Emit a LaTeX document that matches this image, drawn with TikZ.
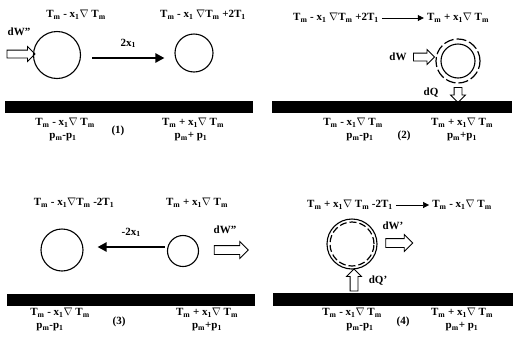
\documentclass[tikz,border=0pt]{standalone}
\usepackage{fontspec}
\setmainfont{Liberation Serif}
\usetikzlibrary{arrows.meta,shapes.arrows,positioning}
\newcommand{\Tm}{T\textsubscript{m}}
\newcommand{\xo}{x\textsubscript{1}}
\newcommand{\pmm}{p\textsubscript{m}}
\newcommand{\po}{p\textsubscript{1}}
\newcommand{\nab}{$\nabla$}
\tikzset{
  lbl/.style={
    font=\fontsize{11}{12}\selectfont\bfseries,
    inner sep=0pt
  },
  bubble/.style={
    circle,
    draw,
    line width=1.1pt,
    inner sep=0pt
  },
  ring/.style={
    circle,
    draw,
    line width=1.2pt,
    dash pattern=on 10pt off 3pt,
    inner sep=0pt
  },
  hollow arrow/.style={
    single arrow,
    draw,
    line width=0.8pt,
    inner sep=3.5pt,
    single arrow head extend=3.5pt
  },
  move arrow/.style={
    -{Triangle[length=9pt,width=9pt]},
    line width=2.4pt
  },
  text arrow/.style={
    -{Triangle[length=6pt,width=6pt]},
    line width=0.8pt,
    shorten <=3pt,
    shorten >=3pt
  }
}
\begin{document}
\begin{tikzpicture}[x=1pt, y=-1pt]
  \useasboundingbox (0,0) rectangle (515,341);

  % Walls
  \fill (5,101) rectangle (253,113);
  \fill (272,101) rectangle (512,113);
  \fill (7,294) rectangle (255,306);
  \fill (273,293) rectangle (513,306);

  % Panel 1
  \node[bubble, minimum size=47pt] (big1) at (57,55) {};
  \node[bubble, minimum size=38pt] (small1) at (194,53) {};
  \node[lbl] (t1a) at (76,15) {\Tm\ - \xo\nab\ \Tm};
  \node[lbl] (t1b) at (203,15) {\Tm\ - \xo\ \nab\Tm\ +2T\textsubscript{1}};
  \node[lbl] (dw1) at (19,32) {dW''};
  \node[hollow arrow, minimum height=28pt] (in1) at (19,54) {};
  \draw[move arrow] ([xshift=11pt,yshift=-3pt]big1.east) -- node[lbl, above=9pt] {2\xo} ([xshift=-10pt,yshift=-3pt]big1.east -| small1.west);
  \node[lbl] (l1a) at (65,123) {\Tm\ - \xo\nab\ \Tm};
  \node[lbl] (l1b) at (63,137) {\pmm-\po};
  \node[lbl] (n1) at (118,131) {(1)};
  \node[lbl] (r1a) at (193,123) {\Tm\ + \xo\nab\ \Tm};
  \node[lbl] (r1b) at (191,137) {\pmm+ \po};

  % Panel 2
  \node[lbl] (t2a) at (336,18) {\Tm\ - \xo\ \nab\Tm\ +2T\textsubscript{1}};
  \node[lbl] (t2b) at (458,18) {\Tm\ + \xo\nab\ \Tm};
  \draw[text arrow] (t2a) -- (t2b);
  \node[bubble, minimum size=34pt] (bub2) at (458,61) {};
  \node[ring, minimum size=44pt] (ring2) at (458,61) {};
  \node[lbl] (dw2) at (398,57) {dW};
  \node[hollow arrow, minimum height=21pt] (in2) at (422,57) {};
  \node[lbl] (dq2) at (431,93) {dQ};
  \node[hollow arrow, minimum height=15pt, rotate=-90] (out2) at (458,93) {};
  \node[lbl] (l2a) at (353,123) {\Tm\ - \xo\nab\ \Tm};
  \node[lbl] (l2b) at (360,137) {\pmm-\po};
  \node[lbl] (n2) at (404,136) {(2)};
  \node[lbl] (r2a) at (462,123) {\Tm\ + \xo\nab\ \Tm};
  \node[lbl] (r2b) at (462,137) {\pmm+\po};

  % Panel 3
  \node[bubble, minimum size=42pt] (big3) at (62,250) {};
  \node[bubble, minimum size=31pt] (small3) at (183,251) {};
  \node[lbl] (t3a) at (74,203) {\Tm\ - \xo\nab\Tm\ -2T\textsubscript{1}};
  \node[lbl] (t3b) at (197,203) {\Tm\ + \xo\nab\ \Tm};
  \draw[move arrow] ([xshift=-2pt,yshift=4pt]small3.west) -- node[lbl, above=9pt] {-2\xo} ([xshift=14pt,yshift=4pt]small3.west -| big3.east);
  \node[lbl] (dw3) at (225,230) {dW''};
  \node[hollow arrow, minimum height=34pt, inner sep=4pt, single arrow head extend=4pt] (out3) at (229,250) {};
  \node[lbl] (l3a) at (60,313) {\Tm\ - \xo\nab\ \Tm};
  \node[lbl] (l3b) at (50,327) {\pmm-\po};
  \node[lbl] (n3) at (119,322) {(3)};
  \node[lbl] (r3a) at (207,313) {\Tm\ + \xo\nab\ \Tm};
  \node[lbl] (r3b) at (207,327) {\pmm+\po};

  % Panel 4
  \node[lbl] (t4a) at (350,205) {\Tm\ + \xo\nab\ \Tm\ -2T\textsubscript{1}};
  \node[lbl] (t4b) at (462,205) {\Tm\ - \xo\nab\ \Tm};
  \draw[text arrow, line width=0.6pt] (t4a) -- (t4b);
  \node[bubble, minimum size=50pt] (bub4) at (352,244) {};
  \node[ring, minimum size=44pt, dash pattern=on 7pt off 3pt] (ring4) at (352,244) {};
  \node[lbl] (dw4) at (393,226) {dW'};
  \node[hollow arrow, minimum height=27pt, inner sep=4pt, single arrow head extend=4pt] (out4) at (397,243) {};
  \node[hollow arrow, minimum height=22pt, rotate=90] (in4) at (354,282) {};
  \node[lbl] (dq4) at (378,281) {dQ'};
  \node[lbl] (l4a) at (352,313) {\Tm\ - \xo\nab\ \Tm};
  \node[lbl] (l4b) at (360,327) {\pmm-\po};
  \node[lbl] (n4) at (403,322) {(4)};
  \node[lbl] (r4a) at (462,313) {\Tm\ + \xo\nab\ \Tm};
  \node[lbl] (r4b) at (462,327) {\pmm+ \po};

\end{tikzpicture}
\end{document}
